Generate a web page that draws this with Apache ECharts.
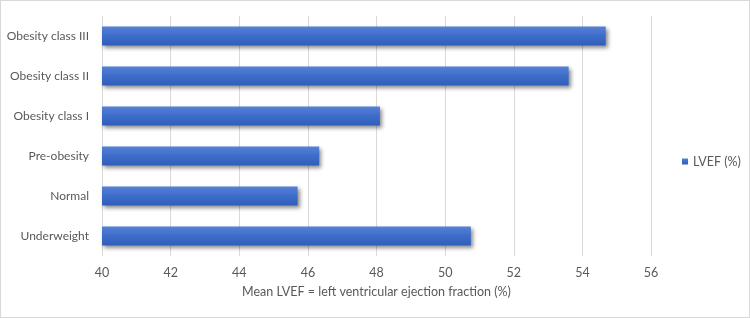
<!DOCTYPE html>
<html>
<head>
<meta charset="utf-8">
<script src="https://cdn.jsdelivr.net/npm/echarts@6/dist/echarts.min.js"></script>
<style>
  html, body { margin: 0; padding: 0; background: #fff; }
  #chart { width: 748px; height: 316px; border: 1px solid #d9d9d9; }
</style>
</head>
<body>
<div id="chart"></div>
<script>
const categories = ['Underweight', 'Normal', 'Pre-obesity', 'Obesity class I', 'Obesity class II', 'Obesity class III'];
const lvefValues = [50.75, 45.7, 46.33, 48.1, 53.6, 54.68];
const seriesName = 'LVEF (%)';
const xAxisTitle = 'Mean LVEF = left ventricular ejection fraction (%)';

const textColor = '#595959';
const fontFamily = 'Lato, "Open Sans", sans-serif';

const myChart = echarts.init(document.getElementById('chart'));
const option = {
    animation: false,
    textStyle: { fontFamily: fontFamily },
    grid: {
        left: 101,
        right: 98,
        top: 15,
        bottom: 61,
        containLabel: false,
        outerBoundsMode: 'none',
    },
    legend: {
        data: [seriesName],
        orient: 'vertical',
        left: 676,
        top: 149,
        icon: 'rect',
        itemWidth: 6,
        itemHeight: 6,
        itemGap: 4,
        textStyle: { color: textColor, fontSize: 12.5, fontFamily: fontFamily },
    },
    xAxis: {
        type: 'value',
        min: 40,
        max: 56,
        interval: 2,
        name: xAxisTitle,
        nameLocation: 'middle',
        nameGap: 29,
        nameTextStyle: { color: textColor, fontSize: 12.5 },
        axisLine: { show: false },
        axisTick: { show: false },
        axisLabel: { color: textColor, fontSize: 12.5, margin: 10 },
        splitLine: { show: true, lineStyle: { color: '#d9d9d9', width: 1 } },
    },
    yAxis: {
        type: 'category',
        data: categories,
        axisLine: { show: false },
        axisTick: { show: false },
        axisLabel: { color: textColor, fontSize: 12, margin: 13 },
        splitLine: { show: false },
    },
    series: [
        {
            name: seriesName,
            type: 'bar',
            data: lvefValues,
            barWidth: 19,
            itemStyle: {
                color: new echarts.graphic.LinearGradient(0, 0, 0, 1, [
                    { offset: 0, color: '#5581d6' },
                    { offset: 0.5, color: '#3e6cc9' },
                    { offset: 1, color: '#2f5dbb' },
                ]),
                shadowColor: 'rgba(0, 0, 0, 0.45)',
                shadowBlur: 4,
                shadowOffsetX: 2,
                shadowOffsetY: 2,
            },
        },
    ],
};
myChart.setOption(option);
</script>
</body>
</html>
